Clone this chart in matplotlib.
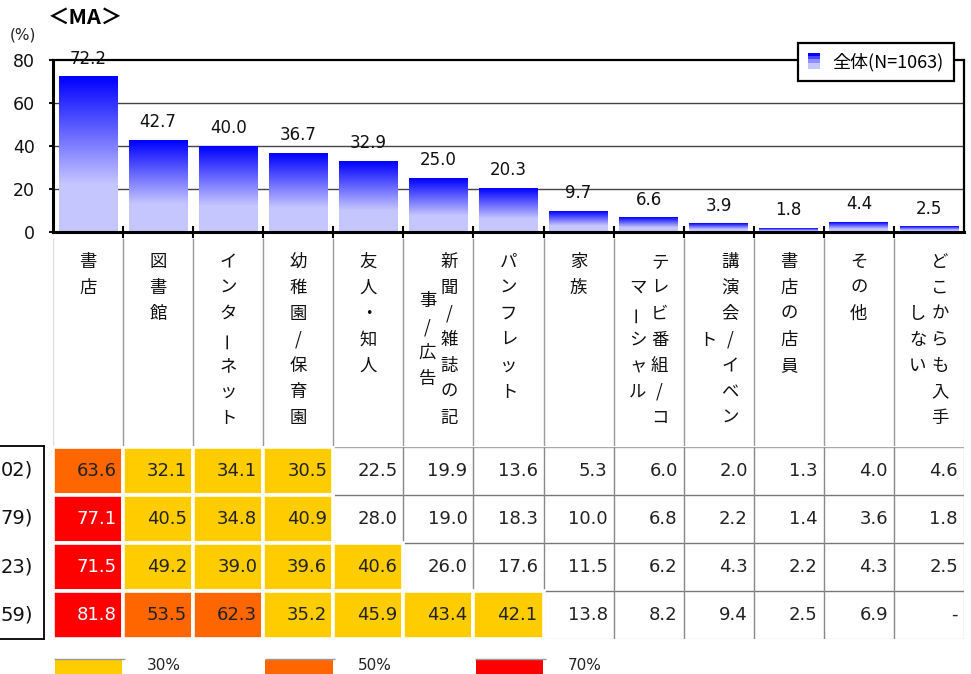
import numpy as np
import matplotlib
matplotlib.use("Agg")
import matplotlib.pyplot as plt
from matplotlib.patches import Rectangle, Patch
from matplotlib.legend_handler import HandlerBase

plt.rcParams['font.family'] = ['DejaVu Sans', 'Noto Sans CJK JP']
JP = ['Noto Sans CJK JP', 'DejaVu Sans']

# ---------------- data ----------------
categories = ["書店", "図書館", "インターネット", "幼稚園/保育園", "友人・知人",
              "新聞/雑誌の記事/広告", "パンフレット", "家族", "テレビ番組/コマーシャル",
              "講演会/イベント", "書店の店員", "その他", "どこからも入手しない"]
overall = [72.2, 42.7, 40.0, 36.7, 32.9, 25.0, 20.3, 9.7, 6.6, 3.9, 1.8, 4.4, 2.5]
series_label = "全体(N=1063)"

row_labels = ["02)", "79)", "23)", "59)"]
row1 = [63.6, 32.1, 34.1, 30.5, 22.5, 19.9, 13.6, 5.3, 6.0, 2.0, 1.3, 4.0, 4.6]
row2 = [77.1, 40.5, 34.8, 40.9, 28.0, 19.0, 18.3, 10.0, 6.8, 2.2, 1.4, 3.6, 1.8]
row3 = [71.5, 49.2, 39.0, 39.6, 40.6, 26.0, 17.6, 11.5, 6.2, 4.3, 2.2, 4.3, 2.5]
row4 = [81.8, 53.5, 62.3, 35.2, 45.9, 43.4, 42.1, 13.8, 8.2, 9.4, 2.5, 6.9, None]
table_rows = [row1, row2, row3, row4]

thresholds = [30, 50, 70]
threshold_labels = ["30%", "50%", "70%"]
threshold_colors = ["#FFCC00", "#FF6600", "#FF0000"]
yticks = [0, 20, 40, 60, 80]

# ---------------- figure ----------------
W, H = 971, 674
fig = plt.figure(figsize=(W / 100, H / 100), dpi=100)


def axes_px(x0, y0, x1, y1):
    return fig.add_axes([x0 / W, 1 - y1 / H, (x1 - x0) / W, (y1 - y0) / H])


def grad_img(n=120):
    t = np.linspace(0, 1, n)
    f = np.clip(t / 0.7, 0, 1) * 0.78
    img = np.zeros((n, 1, 3))
    img[:, 0, 0] = f
    img[:, 0, 1] = f
    img[:, 0, 2] = 1.0
    return img


n = len(categories)
x = np.arange(n)

# ---------------- bar chart ----------------
ax = axes_px(53, 60, 964, 232)
bars = ax.bar(x, overall, width=0.84, color='none', edgecolor='none')
img = grad_img()
for b in bars:
    x0, w, h = b.get_x(), b.get_width(), b.get_height()
    ax.imshow(img, extent=[x0, x0 + w, 0, h], origin='upper', aspect='auto',
              zorder=2, interpolation='bilinear')
for xi, v in zip(x, overall):
    ax.annotate(f"{v:.1f}", (xi, v), xytext=(0, 13), textcoords='offset points',
                ha='center', va='center', fontsize=12, color='#111')
ax.set_xlim(-0.5, n - 0.5)
ax.set_ylim(0, 80)
for yv in yticks[1:-1]:
    ax.axhline(yv, color='#444', lw=1.0, zorder=1)
ax.set_yticks(yticks)
ax.set_yticklabels([str(v) for v in yticks], fontsize=12.5)
ax.tick_params(axis='y', length=3, width=1.5, pad=10, colors='#111')
ax.set_xticks(np.arange(0.5, n - 0.5, 1))
ax.set_xticklabels([])
ax.tick_params(axis='x', direction='inout', length=8, width=1.5)
for s in ['left', 'bottom']:
    ax.spines[s].set_linewidth(2.2)
for s in ['top', 'right']:
    ax.spines[s].set_linewidth(1.6)


class GradHandler(HandlerBase):
    def create_artists(self, legend, orig_handle, xdescent, ydescent, width,
                       height, fontsize, trans):
        arts = []
        k = 5
        cols = grad_img(k)[:, 0, :]
        for i in range(k):
            r = Rectangle((-xdescent, -ydescent + height * (k - 1 - i) / k),
                          width, height / k, facecolor=cols[i], edgecolor='none',
                          transform=trans)
            arts.append(r)
        return arts


leg = ax.legend(handles=[Patch()], labels=[series_label],
                handler_map={Patch: GradHandler()}, loc='upper right',
                bbox_to_anchor=(0.989, 1.10), fancybox=False, framealpha=1,
                edgecolor='black', handlelength=0.7, handleheight=1.0,
                handletextpad=0.7, borderpad=0.55, borderaxespad=0,
                prop={'family': JP, 'size': 13})
leg.get_frame().set_linewidth(1.6)
leg.set_zorder(10)

# ---------------- category labels ----------------
axl = axes_px(53, 232, 964, 446)
axl.set_xlim(-0.5, n - 0.5)
axl.set_ylim(214, 0)
axl.axis('off')
for b in np.arange(0.5, n - 0.5, 1):
    axl.vlines(b, 6, 214, color='#999', lw=1)
for b in [-0.5, n - 0.5]:
    axl.vlines(b, 6, 214, color='#ddd', lw=1)

pitch = 26
for i, name in enumerate(categories):
    cols = [name[:7], name[7:]] if len(name) > 7 else [name]
    N = max(len(c) for c in cols)
    center = 30 + (N - 1) * pitch / 2
    for j, col in enumerate(cols):
        if len(cols) == 2:
            xo = (11 if j == 0 else -11) / 70
        else:
            xo = 0
        start = center - (len(col) - 1) * pitch / 2
        for k, ch in enumerate(col):
            rot = 90 if ch == 'ー' else 0
            axl.text(i + xo, start + k * pitch, ch, ha='center', va='center',
                     fontsize=12.5, family=JP, rotation=rot, color='#111')

# ---------------- table ----------------
axt = axes_px(53, 447, 964, 639)
axt.set_xlim(-0.5, n - 0.5)
axt.set_ylim(4, 0)
axt.axis('off')
axt.hlines([1, 2, 3], -0.5, n - 0.5, color='#777', lw=1)
axt.hlines([0], -0.5, n - 0.5, color='#aaa', lw=1)
axt.hlines([4], -0.5, n - 0.5, color='#ddd', lw=1)
axt.vlines(np.arange(0.5, n - 0.5, 1), 0, 4, color='#888', lw=1)
axt.vlines([n - 0.5], 0, 4, color='#ccc', lw=1)


def cell_color(v):
    c = None
    for t, col in zip(thresholds, threshold_colors):
        if v is not None and v >= t:
            c = col
    return c


for r, row in enumerate(table_rows):
    for i, v in enumerate(row):
        c = cell_color(v)
        if c is not None:
            axt.add_patch(Rectangle((i - 0.5, r), 1, 1, facecolor=c,
                                    edgecolor='white', lw=2.6, zorder=2))
        txt = '-' if v is None else f"{v:.1f}"
        tc = 'white' if (v is not None and v >= thresholds[2]) else '#222'
        axt.text(i + 0.5 - 6 / 70, r + 0.5, txt, ha='right', va='center',
                 fontsize=13, color=tc, zorder=3)

# row label box
axr = axes_px(0, 446, 44, 639)
axr.set_xlim(0, 44)
axr.set_ylim(4, 0)
axr.set_xticks([])
axr.set_yticks([])
axr.spines['left'].set_visible(False)
for s in ['top', 'bottom', 'right']:
    axr.spines[s].set_linewidth(1.3)
for r, lab in enumerate(row_labels):
    axr.text(33, r + 0.5, lab, ha='right', va='center', fontsize=14, color='#111')

# ---------------- threshold legend ----------------
axb = axes_px(53, 658, 964, 700)
axb.set_xlim(-0.5, n - 0.5)
axb.set_ylim(42, 0)
axb.axis('off')
for k, (lab, col) in enumerate(zip(threshold_labels, threshold_colors)):
    c = 3 * k
    axb.add_patch(Rectangle((c - 0.5 + 0.03, 2), 0.96, 40, facecolor=col,
                            edgecolor='none'))
    axb.hlines(0.5, c - 0.5 + 0.02, c + 0.5 + 0.03, color='#999', lw=1)
    axb.text(c + 1 + 6 / 70, 15, lab, ha='center', va='bottom', fontsize=11,
             color='#222')

# ---------------- titles ----------------
fig.text(48 / W, 1 - 17 / H, "＜MA＞", fontsize=15.5, fontweight='bold',
         family=JP, va='center', ha='left')
fig.text(10 / W, 1 - 35 / H, "(%)", fontsize=11, va='center', ha='left',
         color='#222')

fig.savefig("out.png", dpi=100)
